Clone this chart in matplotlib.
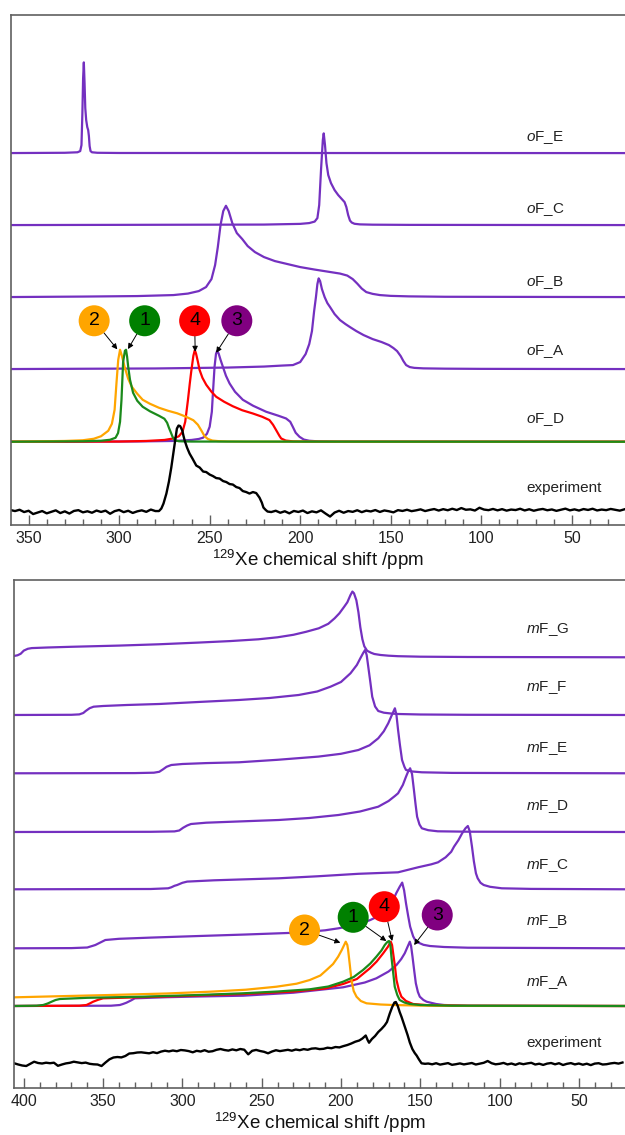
import numpy as np
import matplotlib
matplotlib.use("Agg")
import matplotlib.pyplot as plt
from matplotlib.ticker import MultipleLocator

plt.rcParams['font.family'] = ['Liberation Sans', 'DejaVu Sans']
plt.rcParams['mathtext.fontset'] = 'custom'
plt.rcParams['mathtext.rm'] = 'Liberation Sans'
plt.rcParams['mathtext.it'] = 'Liberation Sans:italic'

PURPLE = '#7430c0'
ORANGE = '#ffa500'
GREEN = '#1b8a1b'
RED = '#ff0000'
SPINE = '#606060'

# ---------------- top panel (oF) : (ppm, intensity) pairs ----------------
oF_E = [(362, 0), (330, 0.3), (323, 0.8), (321.5, 2), (320.8, 8), (320.3, 40), (319.9, 75),
        (319.5, 90.7), (319.1, 70), (318.7, 45), (318.2, 33), (317.6, 26), (317.1, 23),
        (316.7, 17), (316.3, 7), (315.8, 2), (315, 0.8), (312, 0.3), (300, 0.1), (18, 0)]
oF_C = [(362, 0), (220, 0.5), (200, 1.2), (195, 2), (192, 3.5), (190.5, 7), (189.5, 20),
        (188.5, 55), (187.5, 85), (187, 91.7), (186.3, 80), (185.5, 62), (184.5, 50), (183, 42),
        (181, 35), (179, 30), (177, 26), (175.5, 23), (174.5, 18), (173.5, 10), (172.5, 4.5),
        (171.5, 2.5), (170, 1.3), (167, 0.7), (160, 0.4), (140, 0.2), (18, 0)]
oF_B = [(362, 0), (320, 0.5), (290, 1), (270, 2), (262, 3.5), (256, 6), (252, 10), (249, 18),
        (247, 32), (245.5, 50), (244, 72), (242.5, 86), (241, 91.3), (239.5, 86), (237.5, 74),
        (235, 64), (232, 58), (229, 51), (225, 45), (220, 40), (214, 36), (207, 33), (200, 30),
        (192, 27.5), (185, 25.5), (178, 23.5), (174, 21.5), (171, 18), (168.5, 13.5), (166, 8.5),
        (163.5, 5), (160, 3.2), (156, 2), (150, 1.2), (140, 0.7), (120, 0.3), (18, 0)]
oF_A = [(362, 0), (280, 0.6), (240, 1.5), (220, 2.5), (210, 3.5), (204, 4), (200, 7), (197, 15),
        (195, 25), (193.5, 38), (192.3, 58), (191.3, 72), (190.5, 85), (189.8, 90.7), (189, 88),
        (188, 80), (186.5, 72), (185, 66), (183.5, 62), (181, 55), (178, 49), (175, 45),
        (172.5, 42), (169, 38), (165, 34), (160, 30), (155, 27), (151, 24), (148.5, 21),
        (146.5, 18), (144.5, 13), (143, 8), (141.5, 4), (139.5, 2), (137, 1.2), (132, 0.7),
        (120, 0.4), (100, 0.2), (18, 0)]
oF_D_orange = [(362, 0), (330, 0.8), (320, 1.5), (314, 3), (310, 5.5), (306, 11), (304, 18),
               (302.5, 32), (301.5, 58), (300.5, 82), (299.5, 92), (298.5, 86), (297, 75),
               (295, 63), (293, 55), (290, 48), (287, 42), (283, 38), (278, 34), (273, 31),
               (268, 28.5), (263, 25), (259, 21.5), (256.5, 17), (254.5, 11), (252.8, 5.5),
               (251, 2.8), (248.5, 1.2), (245, 0.6), (240, 0.3), (230, 0.1), (18, 0)]
oF_D_green = [(362, 0), (320, 0.5), (310, 1), (305, 2), (302, 4), (300.6, 8.7), (299.5, 20),
              (298.7, 42), (297.8, 80), (296.8, 91), (296.2, 92), (295.6, 85), (295, 75),
              (294, 62), (292.3, 49), (290, 41), (287, 35), (283, 30.5), (278, 26), (275, 23),
              (273.5, 19), (272.5, 14), (271.6, 10), (270.5, 5), (269.3, 1.5), (267, 0.5),
              (260, 0.2), (18, 0)]
oF_D_red = [(362, 0), (300, 0.2), (285, 0.8), (275, 1.8), (270, 3.3), (267, 5.5), (265, 10),
            (263.5, 20), (262, 41.7), (261, 58), (260.2, 70), (259, 86), (258.2, 91.7),
            (257.5, 88), (256.5, 80), (255.6, 72), (254, 64), (251.9, 57), (249, 50), (246.4, 45),
            (242, 40), (237.2, 35.5), (232, 31.5), (226.2, 28.3), (221, 25), (217, 21.7),
            (215, 17), (213.3, 11.7), (211.5, 6), (210.5, 3.3), (208, 1.2), (204, 0.4),
            (195, 0.1), (18, 0)]
oF_D_purple = [(362, 0), (290, 0.3), (270, 0.8), (260, 1.8), (256, 2.8), (253.7, 4), (251.5, 8),
               (250, 15), (248.8, 30), (248.2, 48.7), (247.3, 75), (246.5, 88), (245.8, 91),
               (245, 88), (244, 82), (242.7, 75), (241, 66), (239, 58.3), (236, 50), (231.7, 42),
               (226, 36), (218.8, 30), (212, 26), (207.8, 23.3), (205.5, 20), (204.1, 15),
               (202.5, 9), (200.4, 5), (198, 2.2), (195, 1), (190, 0.4), (180, 0.1), (18, 0)]

# experiment (top): noisy baseline left, line shape, noisy baseline right
exp_top_left_ppm = np.arange(360, 279, -2.5)
exp_top_left = [1.5, 0.5, 1.8, -0.5, 0.8, -2.5, -1.0, 0.5, -1.8, -0.3, 1.2, -1.5, 0.2, -2.0,
                0.6, 1.4, -0.8, 0.3, -1.2, 1.0, -0.4, 0.9, -2.2, 0.4, 1.6, -0.6, 0.8, -1.4,
                0.2, 1.2, -0.3, 2.0, 0.5]
exp_top_peak = [(278, 0.5), (276.7, 3), (275.5, 8), (273.9, 18), (272.5, 30), (271.2, 44),
                (270.2, 57), (269.3, 68), (268.1, 83), (267.2, 86), (266.3, 85.5), (265.1, 81),
                (264.5, 76), (263.8, 71), (262.5, 64), (261.1, 58), (259.5, 53), (257.4, 46),
                (255.5, 44), (253.6, 40), (251.9, 39.5), (250, 37), (248.2, 35.5), (246.4, 33.5),
                (244.5, 33), (242.6, 30.5), (240.8, 29.5), (239, 27.5), (237.2, 27), (235.3, 24.5),
                (233.5, 23.5), (231.7, 20.5), (229.8, 19.5), (228, 18), (226.1, 19.5),
                (224.3, 18.5), (222.5, 14), (221.2, 9), (220.3, 4), (219, 1.5), (218, 0)]
exp_top_right_ppm = np.arange(216, 20, -2.5)
exp_top_right = [-0.5, 0.8, -1.2, 0.3, -1.8, 0.6, -0.4, 1.0, -1.5, 0.2,
                 -0.8, 1.2, -2.0, -5.0, -1.0, 0.8, -1.2, 0.5, -0.3, 1.3,
                 -0.6, 0.9, 0.1, 1.5, -0.4, 1.1, 0.3, -0.8, 1.4, 0.6,
                 1.8, 0.4, 1.2, 2.2, 0.5, 1.6, 2.5, 1.0, 2.4, 1.3,
                 2.8, 1.5, 3.5, 1.8, 2.2, 1.0, 3.8, 2.0, 1.4, 2.6,
                 1.2, 2.4, 0.9, 2.0, 1.5, 2.8, 1.1, 2.3, 0.8, 1.9,
                 2.6, 1.3, 2.1, 0.7, 1.8, 2.9, 1.2, 2.2, 1.0, 2.5,
                 1.6, 2.8, 1.1, 2.0, 1.4, 2.6, 1.7, 0.9, 2.2]

top_offsets = {'E': 372, 'C': 300, 'B': 228, 'A': 156, 'D': 83.3, 'exp': 13.5}
top_labels = ['$o$F_E', '$o$F_C', '$o$F_B', '$o$F_A', '$o$F_D', 'experiment']
top_label_y = [388, 316, 243, 174, 106, 37]

top_circle_nums = ['2', '1', '4', '3']
top_circle_cols = [ORANGE, '#008000', RED, '#800080']
top_circle_xy = [(313.8, 204.3), (285.9, 204.3), (258.3, 204.3), (235.0, 204.3)]
top_arrow_xy = [(301.0, 175.7), (295.1, 176.0), (258.0, 173.3), (246.4, 172.3)]

# ---------------- bottom panel (mF) ----------------
mF_G = [(408, 1.0), (406.2, 1.3), (404, 2.0), (402, 3.5), (400, 6.7), (397.5, 8.5), (395, 9.2),
        (385, 9.8), (370, 10.5), (340, 11.7), (315, 13.0), (290, 14.7), (270, 16.2), (252, 18),
        (240, 20), (230, 22.5), (222, 25.5), (214, 29), (208, 33.5), (204, 39), (201, 44),
        (198, 50.5), (196, 55), (194, 62.3), (192.8, 65.7), (191.8, 64), (190.3, 57), (189, 45),
        (187.8, 30), (186.5, 18), (185.3, 11), (183.5, 6.5), (181, 4.5), (179, 3.3), (175, 2.3),
        (170, 1.6), (164, 1.1), (150, 0.6), (120, 0.3), (18, 0)]
mF_F = [(408, 0), (370, 0.2), (365, 0.6), (362.5, 2), (361, 4), (358.5, 6.8), (356, 8.3),
        (350, 9), (335, 10), (314.6, 11), (290, 13), (264.4, 15), (245, 17), (226.7, 20),
        (215, 23.5), (206.6, 28.3), (200, 33), (194, 41.7), (190, 50), (187.8, 56.7), (186, 62),
        (184.8, 65), (183.8, 60), (182.8, 48.3), (181.5, 33), (180.3, 18.3), (178.5, 8.5),
        (176.5, 4), (173, 2.3), (168, 1.4), (164, 1), (150, 0.5), (120, 0.2), (18, 0)]
mF_E = [(408, 0), (330, 0.2), (318, 0.6), (314.6, 1.5), (312.2, 4), (310, 6.5), (307, 8.3),
        (300, 9.3), (285, 10.2), (264.4, 11), (240, 13.5), (214.2, 16.7), (200, 19.5),
        (189, 23.3), (182, 28), (176.5, 35), (173, 42), (170.2, 50), (168, 58), (166, 65),
        (165, 58), (164, 43.3), (162.8, 28), (161.5, 13.3), (160, 6.5), (159, 3.3), (155, 1.8),
        (149, 1), (130, 0.4), (18, 0)]
mF_D = [(408, 0), (320, 0.2), (305, 0.6), (302, 1.5), (299.5, 4.3), (297, 6.5), (294.6, 8),
        (285, 9.3), (265, 10.5), (239.3, 12), (220, 14), (201.6, 17), (188, 20.5), (176.5, 25.3),
        (170, 31), (166, 36), (164, 38.7), (161, 47), (159, 55.3), (157.5, 61), (156.4, 63.7),
        (155.2, 58), (154, 42), (153, 28), (152, 15.3), (150.5, 7.5), (149, 3.7), (145, 1.8),
        (139, 0.7), (120, 0.3), (18, 0)]
mF_C = [(408, 0), (320, 0.3), (309, 1), (307, 2), (305, 3.5), (303.3, 4.3), (300, 6.5),
        (297, 7.7), (280, 9), (260, 10), (239.3, 11), (215, 13), (189, 15.5), (164, 17),
        (151.4, 22), (143, 25), (138.8, 27), (134, 32), (130.5, 37.5), (128.7, 42.7), (126, 49),
        (123.6, 56), (121.5, 61), (120, 63.3), (118.8, 58), (117.4, 42.7), (116.2, 28),
        (114.9, 16), (113.8, 11), (112, 6.5), (110, 4.3), (106, 2.5), (98.6, 1), (80, 0.4),
        (18, 0)]
mF_B = [(408, 0), (370, 0.2), (360, 0.8), (358.6, 1.5), (356.5, 2.5), (354.9, 3.3), (351.5, 6),
        (348.6, 8.3), (340, 9.5), (320, 10.7), (289.5, 12.3), (260, 13.8), (226.7, 15.7),
        (210, 18), (201.6, 20), (190, 23.5), (181.5, 28.3), (176, 32.5), (171.4, 38.3),
        (168, 45), (165.2, 55), (163, 61.5), (161.4, 65.7), (160.2, 58), (159, 45), (157.6, 32),
        (156.4, 21.7), (154.5, 12), (152.7, 6.7), (148, 3.5), (143.9, 2.3), (135, 1.3),
        (120, 0.6), (18, 0)]
mF_A_orange = [(408, 8.6), (380, 9.7), (345.8, 11), (310, 12.5), (282.7, 14.3), (260, 16.3),
               (240.7, 19.3), (228, 22.3), (219.7, 26), (213, 30.5), (209.1, 36), (205, 42),
               (201.8, 49.3), (199.5, 56), (198, 61), (197, 64.3), (196, 61), (195.5, 56),
               (194.5, 42), (193.4, 26), (192, 15), (190.2, 9.3), (187.5, 5), (183.9, 2.7),
               (175, 1.5), (167.1, 1), (150, 0.4), (120, 0.1), (18, 0)]
mF_A_green = [(408, 0), (392, 0.3), (387.8, 1), (385, 2.5), (382.5, 4.3), (380, 6), (377.3, 7),
              (360, 8.2), (324.8, 9.3), (290, 11), (261.7, 12.7), (240, 14.5), (219.7, 16.7),
              (208, 19.5), (198.7, 24.3), (192, 29), (186.1, 36), (181.5, 42.5), (177.7, 49.3),
              (174.5, 55.5), (172.4, 61), (170.8, 64), (169.7, 65), (168.8, 60), (168.2, 49.3),
              (167.2, 35), (166.1, 19.3), (164.5, 11), (163, 6), (160, 3.5), (156.6, 2),
              (150, 1), (130, 0.3), (18, 0)]
mF_A_red = [(408, 0), (365, 0.3), (360.5, 1), (358.5, 2.5), (356.3, 4.3), (353, 6.3), (350, 7.7),
            (330, 8.6), (300, 10), (261.7, 12), (230, 14.5), (210, 17.5), (198.7, 22), (190, 27),
            (181.8, 37.7), (177.5, 44.5), (173.4, 52.7), (170.5, 59), (168.6, 64.3),
            (167.8, 61), (167.1, 52.7), (166, 40), (165, 26), (163.5, 16), (161.9, 9.3),
            (159, 5), (154.5, 2), (145, 0.8), (120, 0.2), (18, 0)]
mF_A_purple = [(408, 0), (345, 0.3), (339.5, 1), (337.5, 2), (335.3, 3.3), (332.5, 5.5),
               (330, 7.7), (310, 8.8), (290, 9.5), (261.7, 10.3), (230, 13.3), (198.7, 18.7),
               (185, 23.5), (177.7, 27.7), (170, 34.5), (165, 41), (162, 47), (159.8, 52.7),
               (157.8, 60), (156.6, 64.3), (155.8, 60), (154.9, 49.3), (153.8, 35), (152.8, 22.7),
               (151.5, 14), (150.3, 9.3), (148, 6), (146, 4.3), (140, 2), (135, 1), (120, 0.3),
               (18, 0)]

exp_bot_left_ppm = np.arange(406, 213, -2.5)
exp_bot_left = [0.7, -0.5, -1.5, -2.0, 0.2, 2.3, 1.0, 0.5, 1.3, 0.8,
                1.3, -1.8, -0.5, 0.6, 1.2, 2.3, 1.6, 0.9, 1.4, 0.2,
                -0.3, -0.5, -2.0, 1.5, 4.7, 6.5, 7.0, 6.6, 8.0, 10.5,
                10.8, 11.5, 11.7, 11.2, 10.7, 11.8, 10.9, 12.4, 13.3, 12.6,
                13.5, 12.8, 14.0, 13.6, 12.9, 11.7, 13.2, 12.5, 13.8, 12.3,
                12.8, 14.2, 15.0, 14.0, 13.4, 14.6, 13.7, 15.0, 14.3, 9.7,
                13.2, 14.1, 13.0, 12.2, 10.7, 12.5, 13.8, 12.9, 13.6, 14.2,
                13.3, 14.5, 13.8, 14.9, 14.2, 15.4, 15.7, 14.9]
exp_bot_peak = [(211, 15.2), (208.5, 16.3), (206, 15.8), (203.5, 17.0), (201, 16.6),
                (198.7, 17.8), (196, 19.0), (193.5, 20.5), (191, 22.3), (188.5, 23.5),
                (186.5, 25.5), (184.4, 28.5), (183.2, 24), (182.3, 21.3), (180.5, 25),
                (178.5, 28), (176.5, 32), (174.5, 35), (172.5, 38.5), (171, 42), (169.2, 50.7),
                (167.7, 57), (166.3, 61.5), (165.4, 62), (164.2, 58), (163, 52), (161.8, 47),
                (160.8, 42.3), (159.5, 36), (158, 29), (156.6, 21.5), (155, 15), (153.5, 11),
                (152.3, 8.5), (150.8, 4.5), (149.2, 0.7), (147, 0.2)]
exp_bot_right_ppm = np.arange(145, 20, -2.5)
exp_bot_right = [0.5, -0.3, 0.8, -0.6, 0.2, 0.9, -0.8, -0.2, 0.6, -0.4,
                 0.3, 1.0, -0.5, 0.4, 1.2, 3.0, 0.8, -0.3, 0.2, 1.1,
                 -0.4, 0.5, -0.8, 0.7, -0.2, 0.6, 1.2, -0.5, 0.3, -0.9,
                 0.4, 1.0, -0.3, 0.8, -1.0, 0.2, 0.9, -0.4, 0.5, -0.7,
                 0.3, -1.1, 0.4, 0.8, -0.5, -0.2, 0.6, 1.1, 0.4, 1.5]

bot_offsets = {'G': 430.7, 'F': 373, 'E': 314.7, 'D': 256, 'C': 198.7, 'B': 139.7,
               'A': 82, 'exp': 24}
bot_labels = ['$m$F_G', '$m$F_F', '$m$F_E', '$m$F_D', '$m$F_C', '$m$F_B', '$m$F_A',
              'experiment']
bot_label_y = [458, 400, 339, 281, 222, 166, 105, 45]

bot_circle_nums = ['2', '1', '4', '3']
bot_circle_cols = [ORANGE, '#008000', RED, '#800080']
bot_circle_xy = [(223.0, 158.0), (192.3, 170.7), (172.7, 181.3), (139.3, 173.0)]
bot_arrow_xy = [(200.4, 145.3), (171.4, 147.0), (167.7, 147.0), (153.9, 143.0)]


def draw(ax, pairs, offset, color, lw=1.6):
    arr = np.array(pairs, dtype=float)
    ax.plot(arr[:, 0], arr[:, 1] + offset, color=color, lw=lw, solid_joinstyle='round')


def style_axis(ax, xlim, ylim):
    ax.set_xlim(*xlim)
    ax.set_ylim(*ylim)
    ax.set_yticks([])
    ax.xaxis.set_major_locator(MultipleLocator(50))
    ax.xaxis.set_minor_locator(MultipleLocator(10))
    ax.tick_params(axis='x', which='both', direction='in', color=SPINE, width=1.0,
                   labelsize=11.5, labelcolor='#222222', pad=4, top=False)
    ax.tick_params(axis='x', which='major', length=7)
    ax.tick_params(axis='x', which='minor', length=4)
    for side in ['left', 'top', 'bottom']:
        ax.spines[side].set_color(SPINE)
        ax.spines[side].set_linewidth(1.2)
    ax.spines['right'].set_visible(False)
    ax.set_xlabel(r'$^{129}$Xe chemical shift /ppm', fontsize=13.5, labelpad=2, color='#111111')


def circles(ax, nums, cols, cxy, txy):
    for n, c, cc, tt in zip(nums, cols, cxy, txy):
        ax.annotate(n, xy=tt, xytext=cc, ha='center', va='center', fontsize=14,
                    color='black', zorder=6,
                    bbox=dict(boxstyle='circle,pad=0.36', fc=c, ec='none'),
                    arrowprops=dict(arrowstyle='-|>', color='black', lw=0.7,
                                    mutation_scale=8, shrinkA=0, shrinkB=0))


fig = plt.figure(figsize=(6.25, 11.35), dpi=100)

# top panel
ax1 = fig.add_axes([0.0171, 0.5374, 0.9829, 0.4493])
draw(ax1, oF_E, top_offsets['E'], PURPLE)
draw(ax1, oF_C, top_offsets['C'], PURPLE)
draw(ax1, oF_B, top_offsets['B'], PURPLE)
draw(ax1, oF_A, top_offsets['A'], PURPLE)
draw(ax1, oF_D_purple, top_offsets['D'], PURPLE)
draw(ax1, oF_D_red, top_offsets['D'], RED)
draw(ax1, oF_D_orange, top_offsets['D'], ORANGE)
draw(ax1, oF_D_green, top_offsets['D'], GREEN)
exp_top_x = np.concatenate([exp_top_left_ppm, np.array(exp_top_peak)[:, 0], exp_top_right_ppm])
exp_top_y = np.concatenate([exp_top_left, np.array(exp_top_peak)[:, 1], exp_top_right])
ax1.plot(exp_top_x, exp_top_y + top_offsets['exp'], color='black', lw=1.7)
for lab, yy in zip(top_labels, top_label_y):
    ax1.text(0.839, yy, lab, transform=ax1.get_yaxis_transform(), fontsize=11,
             va='center', ha='left', color='#222222')
circles(ax1, top_circle_nums, top_circle_cols, top_circle_xy, top_arrow_xy)
style_axis(ax1, (359.9, 20.6), (0, 510))

# bottom panel
ax2 = fig.add_axes([0.0224, 0.0414, 0.9776, 0.4476])
draw(ax2, mF_G, bot_offsets['G'], PURPLE)
draw(ax2, mF_F, bot_offsets['F'], PURPLE)
draw(ax2, mF_E, bot_offsets['E'], PURPLE)
draw(ax2, mF_D, bot_offsets['D'], PURPLE)
draw(ax2, mF_C, bot_offsets['C'], PURPLE)
draw(ax2, mF_B, bot_offsets['B'], PURPLE)
draw(ax2, mF_A_purple, bot_offsets['A'], PURPLE)
draw(ax2, mF_A_red, bot_offsets['A'], RED)
draw(ax2, mF_A_orange, bot_offsets['A'], ORANGE)
draw(ax2, mF_A_green, bot_offsets['A'], GREEN)
exp_bot_x = np.concatenate([exp_bot_left_ppm, np.array(exp_bot_peak)[:, 0], exp_bot_right_ppm])
exp_bot_y = np.concatenate([exp_bot_left, np.array(exp_bot_peak)[:, 1], exp_bot_right])
ax2.plot(exp_bot_x, exp_bot_y + bot_offsets['exp'], color='black', lw=1.7)
for lab, yy in zip(bot_labels, bot_label_y):
    ax2.text(0.838, yy, lab, transform=ax2.get_yaxis_transform(), fontsize=11,
             va='center', ha='left', color='#222222')
circles(ax2, bot_circle_nums, bot_circle_cols, bot_circle_xy, bot_arrow_xy)
style_axis(ax2, (406.2, 20.9), (0, 508))

fig.savefig('out.png', dpi=100)
